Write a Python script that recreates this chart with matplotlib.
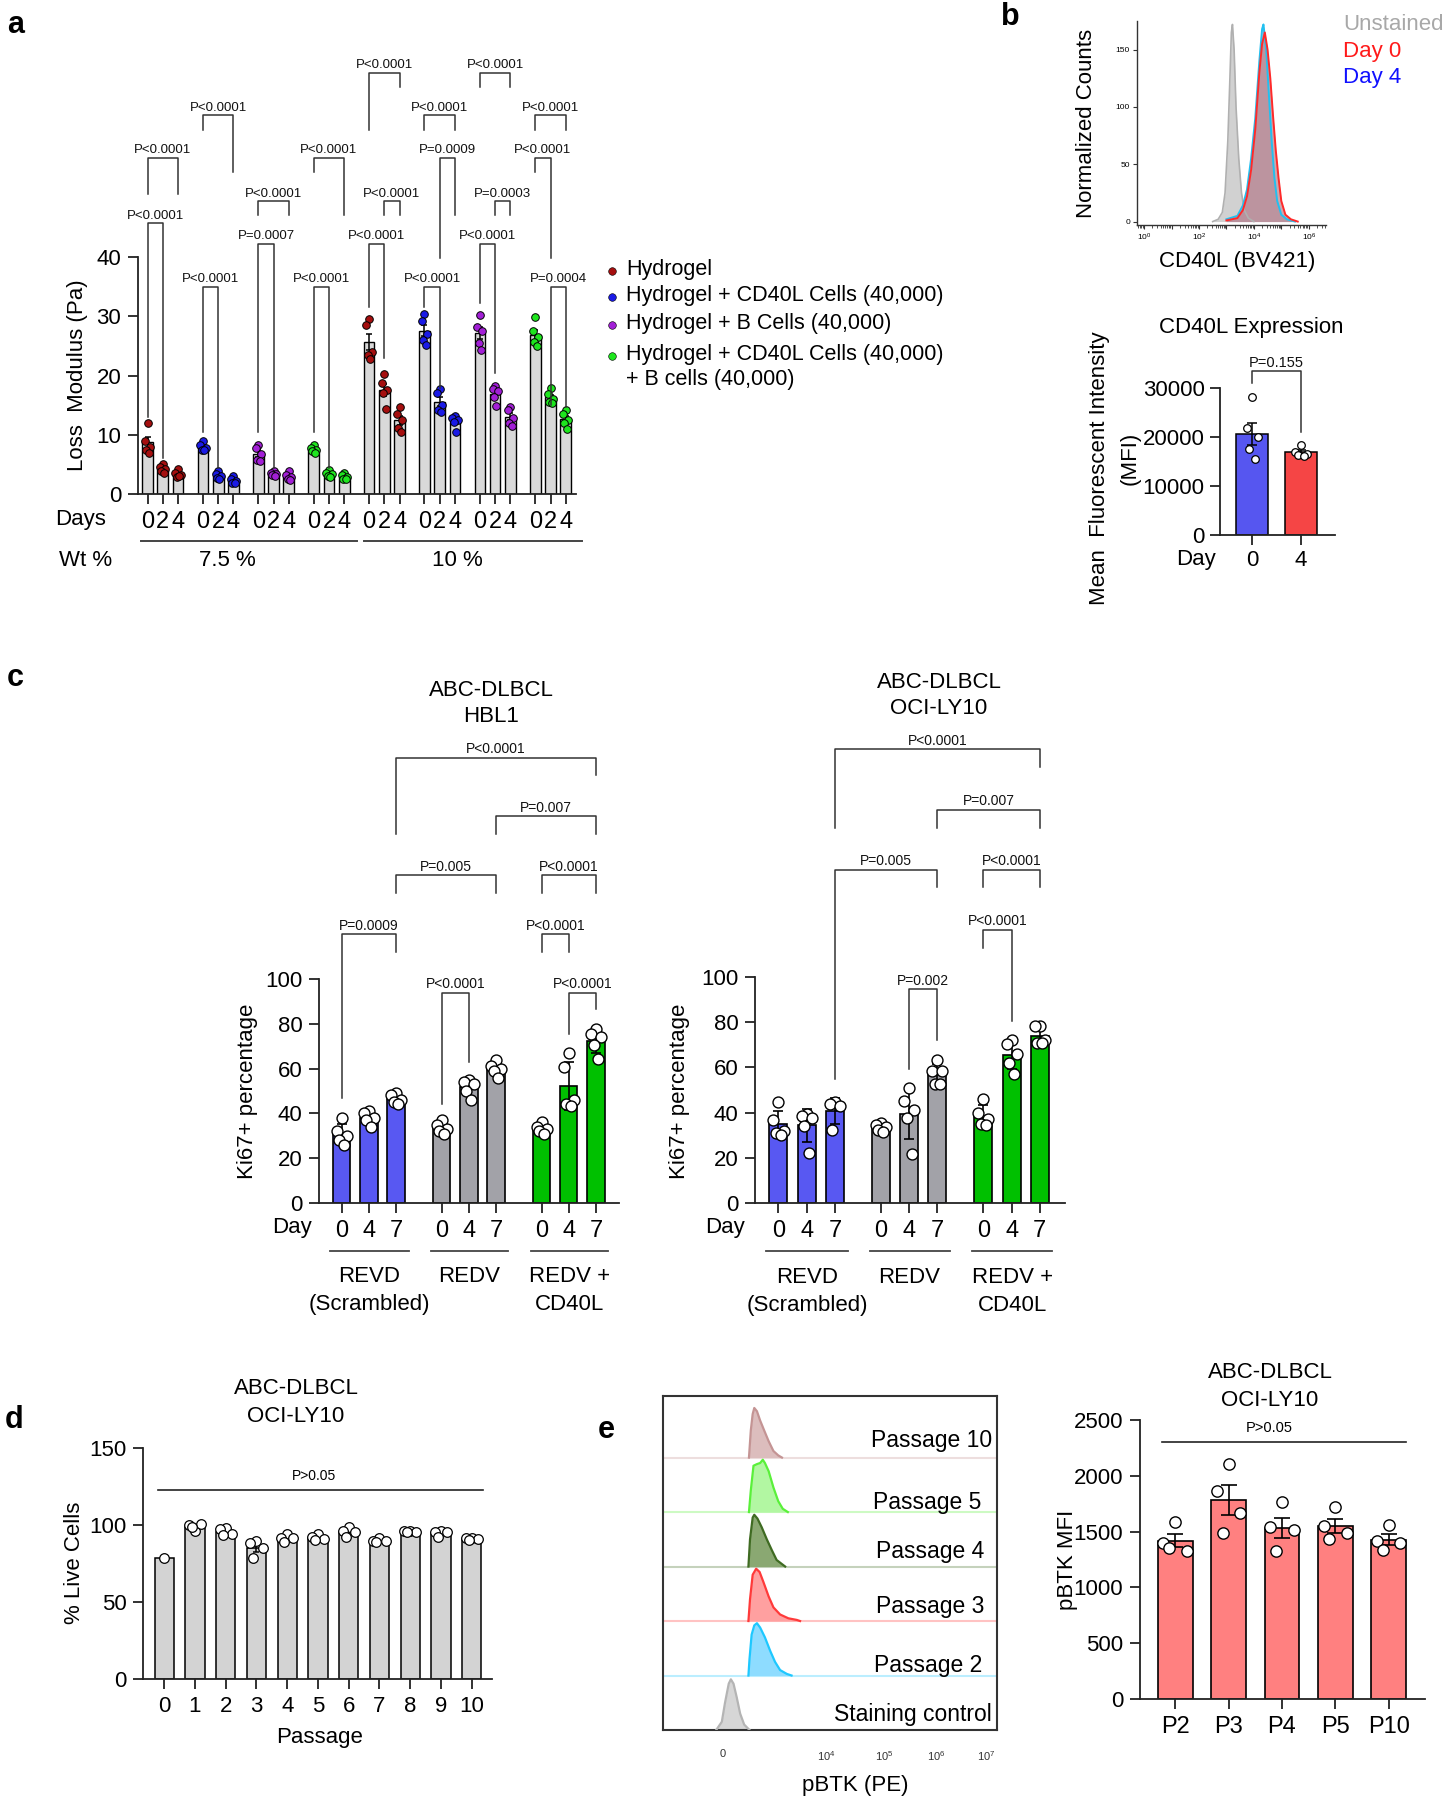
import numpy as np
import matplotlib
matplotlib.use('Agg')
import matplotlib.pyplot as plt
from matplotlib.lines import Line2D
from matplotlib.ticker import LogLocator, NullFormatter, FixedLocator

plt.rcParams['font.family'] = ['Liberation Sans', 'DejaVu Sans']
plt.rcParams['mathtext.fontset'] = 'custom'
plt.rcParams['mathtext.rm'] = 'Liberation Sans'
plt.rcParams['mathtext.it'] = 'Liberation Sans:italic'
plt.rcParams['mathtext.bf'] = 'Liberation Sans:bold'

# ======================= DATA =======================
# ---- Panel a : loss modulus (Pa) ----
a_day_labels = ['0', '2', '4']
a_wt_labels = ['7.5 %', '10 %']
a_legend = ['Hydrogel', 'Hydrogel + CD40L Cells (40,000)', 'Hydrogel + B Cells (40,000)',
            'Hydrogel + CD40L Cells (40,000)\n+ B cells (40,000)']
a_hydrogel_75 = [[12.0, 9.0, 8.0, 7.5, 7.0], [5.0, 4.5, 4.2, 3.8, 3.6], [4.3, 3.6, 3.2, 2.8, 3.0]]
a_cd40l_75 = [[8.9, 8.2, 7.8, 7.5, 7.4], [3.8, 3.4, 3.0, 2.7, 2.5], [3.0, 2.6, 2.2, 1.9, 1.8]]
a_bcell_75 = [[8.2, 7.8, 6.8, 5.8, 5.5], [3.9, 3.6, 3.4, 3.2, 3.0], [3.8, 3.2, 2.8, 2.5, 2.3]]
a_combo_75 = [[8.2, 7.8, 7.4, 7.2, 7.0], [4.0, 3.6, 3.3, 3.0, 2.9], [3.5, 3.2, 2.8, 2.6, 2.5]]
a_hydrogel_10 = [[29.5, 28.5, 24.0, 23.5, 22.8], [20.2, 18.8, 17.5, 17.0, 14.3], [14.7, 13.5, 12.5, 11.2, 10.5]]
a_cd40l_10 = [[30.4, 29.2, 27.0, 26.0, 25.2], [17.8, 17.0, 15.0, 14.2, 13.8], [13.2, 12.8, 12.5, 12.2, 10.4]]
a_bcell_10 = [[30.2, 28.2, 27.5, 25.5, 24.3], [18.3, 17.8, 17.3, 16.3, 14.8], [14.6, 14.2, 12.8, 12.0, 11.5]]
a_combo_10 = [[29.9, 27.5, 26.5, 25.6, 25.0], [17.9, 16.8, 16.0, 15.6, 15.3], [14.1, 13.5, 12.5, 12.0, 10.9]]
# (group, day_from, day_to, bracket level, left leg end, right leg end, label)
a_brackets = [
    (0, 0, 1, 45.7, 13.0, 6.0, 'P<0.0001'), (0, 0, 2, 56.75, 50.6, 50.6, 'P<0.0001'),
    (1, 0, 2, 63.9, 61.5, 54.3, 'P<0.0001'), (1, 0, 1, 35.0, 10.4, 4.4, 'P<0.0001'),
    (2, 0, 2, 49.4, 47.1, 47.1, 'P<0.0001'), (2, 0, 1, 42.25, 10.4, 4.4, 'P=0.0007'),
    (3, 0, 2, 56.75, 54.3, 47.1, 'P<0.0001'), (3, 0, 1, 35.0, 10.4, 4.4, 'P<0.0001'),
    (4, 0, 2, 71.1, 61.5, 68.7, 'P<0.0001'), (4, 1, 2, 49.4, 47.1, 47.1, 'P<0.0001'),
    (4, 0, 1, 42.25, 31.6, 22.9, 'P<0.0001'), (5, 0, 2, 63.9, 61.5, 61.5, 'P<0.0001'),
    (5, 1, 2, 56.75, 39.9, 47.1, 'P=0.0009'), (5, 0, 1, 35.0, 31.6, 17.9, 'P<0.0001'),
    (6, 0, 2, 71.1, 68.7, 68.7, 'P<0.0001'), (6, 1, 2, 49.4, 47.1, 47.1, 'P=0.0003'),
    (6, 0, 1, 42.25, 32.25, 20.4, 'P<0.0001'), (7, 0, 2, 63.9, 61.5, 61.5, 'P<0.0001'),
    (7, 0, 1, 56.75, 54.3, 39.9, 'P<0.0001'), (7, 1, 2, 35.0, 15.0, 14.75, 'P=0.0004'),
]

# ---- Panel b : CD40L histogram (log10 intensity, counts) ----
b_hist_legend = ['Unstained', 'Day 0', 'Day 4']
b_unstained_log = [2.5, 2.7, 2.85, 2.95, 3.05, 3.12, 3.18, 3.22, 3.28, 3.35, 3.45, 3.55, 3.65, 3.8, 4.0]
b_unstained_cnt = [0, 2, 8, 25, 70, 120, 165, 172, 150, 100, 55, 25, 10, 3, 0]
b_day0_log = [3.0, 3.4, 3.6, 3.75, 3.9, 4.05, 4.2, 4.3, 4.4, 4.5, 4.6, 4.7, 4.8, 4.9, 5.0, 5.15, 5.35, 5.6]
b_day0_cnt = [1, 3, 10, 22, 45, 80, 130, 155, 165, 150, 125, 92, 62, 38, 18, 6, 2, 0]
b_day4_log = [3.0, 3.4, 3.6, 3.75, 3.9, 4.05, 4.2, 4.3, 4.35, 4.45, 4.55, 4.65, 4.75, 4.85, 5.0, 5.2, 5.5]
b_day4_cnt = [2, 5, 14, 28, 55, 90, 140, 168, 172, 150, 110, 70, 38, 18, 6, 2, 0]
# ---- Panel b : CD40L MFI ----
b_days = ['0', '4']
b_mfi_day0 = [28250, 21900, 19900, 17500, 15500]
b_mfi_day4 = [18300, 17000, 16600, 16300, 16200]

# ---- Panel c : Ki67+ percentage ----
c_days = ['0', '4', '7']
c_groups = ['REVD\n(Scrambled)', 'REDV', 'REDV +\nCD40L']
c_hbl1_revd = [[38, 32, 30, 28, 26], [41, 40, 38, 37, 34], [49, 48, 46, 45, 44]]
c_hbl1_redv = [[37, 35, 33, 32, 31], [55, 54, 53, 50, 46], [64, 61, 60, 59, 56]]
c_hbl1_cd40l = [[36, 34, 33, 32, 31], [66.9, 60.6, 46, 44, 43.3], [77.6, 75.6, 74.3, 70.4, 64.3]]
c_ly10_revd = [[44.6, 36.6, 31.8, 30.9, 29.9], [39.5, 38.5, 37.5, 34, 22], [44.6, 43.6, 42.9, 32.2]]
c_ly10_redv = [[35.5, 34.5, 33.5, 32.5, 31.5], [51, 45.3, 41, 37.7, 21.7], [63.4, 58.3, 58.3, 52.6, 52.6]]
c_ly10_cd40l = [[46, 40, 37, 35, 34.5], [72, 70.5, 65.9, 61.9, 57.1], [78.5, 78.3, 72, 71, 70.7]]
# (group1, day1, group2, day2, level, left leg end, right leg end, label)
c_hbl1_brackets = [
    (0, 0, 0, 2, 119.9, 46.8, 112, 'P=0.0009'), (0, 2, 1, 2, 146.4, 138.6, 138.6, 'P=0.005'),
    (1, 2, 2, 2, 172.7, 164.9, 164.9, 'P=0.007'), (0, 2, 2, 2, 198.8, 164.9, 191, 'P<0.0001'),
    (1, 0, 1, 1, 93.8, 44.4, 63, 'P<0.0001'), (2, 0, 2, 1, 119.9, 112, 112, 'P<0.0001'),
    (2, 0, 2, 2, 146.4, 138.6, 138.6, 'P<0.0001'), (2, 1, 2, 2, 93.8, 75.6, 86.4, 'P<0.0001'),
]
c_ly10_brackets = [
    (1, 1, 1, 2, 94.7, 59.4, 72.2, 'P=0.002'), (2, 0, 2, 1, 121, 112.8, 80.4, 'P<0.0001'),
    (0, 2, 1, 2, 147.4, 54.7, 139.8, 'P=0.005'), (2, 0, 2, 2, 147.4, 139.8, 139.8, 'P<0.0001'),
    (1, 2, 2, 2, 174.1, 166, 166, 'P=0.007'), (0, 2, 2, 2, 200.8, 166, 192.8, 'P<0.0001'),
]

# ---- Panel d : % live cells per passage ----
d_passages = ['0', '1', '2', '3', '4', '5', '6', '7', '8', '9', '10']
d_live = [[78.8], [96, 100, 100.4, 98.4], [97.8, 97.3, 94.1, 93.5], [89.6, 88.5, 84.8, 78.3],
          [93.9, 91.7, 91.3, 89.1], [93.9, 92.0, 90.9, 90.0], [98.6, 96.0, 95.6, 92.2],
          [91.3, 89.6, 89.6, 89.1], [96.0, 96.0, 95.6, 95.6], [96.0, 95.6, 95.6, 92.4],
          [91.7, 91.3, 90.9, 90.4]]
d_stat = 'P>0.05'

# ---- Panel e : pBTK histograms (display decade units, relative height) ----
e_rows = ['Staining control', 'Passage 2', 'Passage 3', 'Passage 4', 'Passage 5', 'Passage 10']
e_ctrl_x = [1.925, 2.03, 2.09, 2.16, 2.2, 2.25, 2.31, 2.375, 2.45, 2.55]
e_ctrl_y = [0, 0.15, 0.5, 0.85, 0.93, 0.85, 0.6, 0.3, 0.1, 0.0]
e_p2_x = [2.53, 2.55, 2.59, 2.64, 2.69, 2.75, 2.84, 2.94, 3.03, 3.125, 3.25, 3.34]
e_p2_y = [0, 0.3, 0.75, 0.92, 0.96, 0.88, 0.7, 0.45, 0.25, 0.1, 0.03, 0]
e_p3_x = [2.53, 2.56, 2.61, 2.675, 2.74, 2.81, 2.91, 3.0, 3.125, 3.28, 3.44, 3.5]
e_p3_y = [0, 0.4, 0.85, 0.96, 0.9, 0.72, 0.45, 0.25, 0.12, 0.05, 0.02, 0]
e_p4_x = [2.53, 2.56, 2.61, 2.64, 2.70, 2.78, 2.875, 2.97, 3.06, 3.22]
e_p4_y = [0, 0.5, 0.9, 0.95, 0.88, 0.72, 0.5, 0.3, 0.12, 0]
e_p5_x = [2.54, 2.575, 2.625, 2.69, 2.75, 2.8, 2.84, 2.91, 3.0, 3.09, 3.175, 3.27]
e_p5_y = [0, 0.4, 0.85, 0.88, 0.9, 0.96, 0.9, 0.75, 0.45, 0.2, 0.06, 0]
e_p10_x = [2.54, 2.575, 2.61, 2.64, 2.69, 2.75, 2.825, 2.91, 3.0, 3.09, 3.16]
e_p10_y = [0, 0.5, 0.8, 0.91, 0.85, 0.68, 0.5, 0.3, 0.12, 0.04, 0]
e_tick_pos = [2.05, 4.0, 5.08, 6.06, 7.0]
e_tick_labels = ['0', '$10^4$', '$10^5$', '$10^6$', '$10^7$']
# ---- Panel e : pBTK MFI ----
e_labels = ['P2', 'P3', 'P4', 'P5', 'P10']
e_mfi = [[1589, 1400, 1329, 1356], [2106, 1867, 1664, 1490], [1762, 1538, 1514, 1329],
         [1723, 1550, 1484, 1430], [1559, 1419, 1400, 1335]]
e_stat = 'P>0.05'

# ======================= FIGURE =======================
W, H = 1445, 1800
fig = plt.figure(figsize=(W / 100, H / 100), dpi=100)
fig.patch.set_facecolor('white')
INK = '#222222'


def add_ax(l, t, r, b):
    return fig.add_axes([l / W, 1 - b / H, (r - l) / W, (b - t) / H])


def ftext(x, y, s, **kw):
    kw.setdefault('ha', 'center')
    kw.setdefault('va', 'center')
    kw.setdefault('fontsize', 16)
    kw.setdefault('color', 'black')
    fig.text(x / W, 1 - y / H, s, **kw)


def style(ax, fs=16, pad=4):
    for s in ['top', 'right']:
        ax.spines[s].set_visible(False)
    for s in ['left', 'bottom']:
        ax.spines[s].set_linewidth(1.3)
        ax.spines[s].set_color(INK)
    ax.tick_params(direction='out', length=7, width=1.3, labelsize=fs, color=INK, pad=pad)
    ax.set_facecolor('none')


def offsets(n, spread):
    pat = [0.0, -1.0, 1.0, -0.5, 0.5, -0.75, 0.75]
    return np.array(pat[:n]) * spread


def draw_bar(ax, x, pts, color, width, pcolor, s, err, capsize, spread, lw=1.1, pt_lw=0.9, elw=1.1):
    pts = np.asarray(pts, float)
    m = pts.mean()
    ax.bar(x, m, width=width, color=color, edgecolor='black', linewidth=lw, zorder=2)
    if len(pts) > 1:
        e = pts.std(ddof=1)
        if err == 'sem':
            e = e / np.sqrt(len(pts))
        ax.errorbar(x, m, yerr=e, fmt='none', ecolor='black', elinewidth=elw,
                    capsize=capsize, capthick=elw, zorder=3)
    ax.scatter(x + offsets(len(pts), spread), pts, s=s, c=pcolor, edgecolors='black',
               linewidths=pt_lw, zorder=4, clip_on=False)


def bracket(ax, x1, x2, y, l1, l2, txt, fs=10):
    ax.plot([x1, x1, x2, x2], [l1, y, y, l2], color='#333333', lw=1.1, clip_on=False, zorder=5)
    ax.annotate(txt, xy=((x1 + x2) / 2, y), xytext=(0, 1), textcoords='offset points',
                ha='center', va='bottom', fontsize=fs, annotation_clip=False, color='#111111')


# ---------------- Panel a ----------------
a_colors = ['#a50f0f', '#1a1ae6', '#a21fd6', '#1ee61e']
a_all = [a_hydrogel_75, a_cd40l_75, a_bcell_75, a_combo_75,
         a_hydrogel_10, a_cd40l_10, a_bcell_10, a_combo_10]
A_GAP = 3.63
axA = add_ax(138, 257, 576, 494)
style(axA, fs=16, pad=5)
xt, xl = [], []
for g, sets in enumerate(a_all):
    for d, pts in enumerate(sets):
        x = g * A_GAP + d
        draw_bar(axA, x, pts, '#d9d9d9', 0.7, a_colors[g % 4], 30, 'sem', 2.2, 0.17, lw=1.0, pt_lw=0.7)
        xt.append(x)
        xl.append(a_day_labels[d])
axA.set_xticks(xt)
axA.set_xticklabels(xl)
axA.tick_params(axis='x', labelsize=17)
axA.set_xlim(-0.625, 7 * A_GAP + 2 + 0.67)
axA.set_ylim(0, 40)
axA.set_yticks([0, 10, 20, 30, 40])
for (g, d1, d2, y, l1, l2, txt) in a_brackets:
    bracket(axA, g * A_GAP + d1, g * A_GAP + d2, y, l1, l2, txt, fs=9.5)
trA = axA.get_xaxis_transform()
axA.plot([-0.43, 13.7], [-0.2, -0.2], transform=trA, clip_on=False, color='#444444', lw=1.4)
axA.plot([14.2, 28.45], [-0.2, -0.2], transform=trA, clip_on=False, color='#444444', lw=1.4)
axA.text(5.2, -0.28, a_wt_labels[0], transform=trA, ha='center', va='center', fontsize=16)
axA.text(20.3, -0.28, a_wt_labels[1], transform=trA, ha='center', va='center', fontsize=16)
ftext(81, 519, 'Days')
ftext(86, 560, 'Wt %')
ftext(78, 375, 'Loss  Modulus (Pa)', rotation=90)
ftext(16, 25, 'a', fontsize=22, fontweight='bold')
leg_y = [271, 297, 325, 356]
for i, lab in enumerate(a_legend):
    fig.add_artist(Line2D([612 / W], [1 - leg_y[i] / H], marker='o', markersize=5.5,
                          color=a_colors[i], markeredgecolor='black', markeredgewidth=0.4,
                          transform=fig.transFigure))
    ftext(626, leg_y[i] - 12, lab, ha='left', va='top', fontsize=15.5, linespacing=1.25)

# ---------------- Panel b histogram ----------------
axBh = add_ax(1137, 21, 1326, 225)
for s in ['top', 'right']:
    axBh.spines[s].set_visible(False)
for s in ['left', 'bottom']:
    axBh.spines[s].set_linewidth(1.0)
    axBh.spines[s].set_color('#333333')
axBh.set_xscale('log')
axBh.fill_between(10 ** np.array(b_unstained_log), b_unstained_cnt, color='#cfcfcf', alpha=0.95, lw=0)
axBh.plot(10 ** np.array(b_unstained_log), b_unstained_cnt, color='#b0b0b0', lw=1.2)
axBh.fill_between(10 ** np.array(b_day4_log), b_day4_cnt, color='#9aa3c0', alpha=0.75, lw=0)
axBh.fill_between(10 ** np.array(b_day0_log), b_day0_cnt, color='#c08890', alpha=0.75, lw=0)
axBh.plot(10 ** np.array(b_day4_log), b_day4_cnt, color='#22c0f0', lw=1.4)
axBh.plot(10 ** np.array(b_day0_log), b_day0_cnt, color='#ff2a2a', lw=1.4)
axBh.set_xlim(10 ** -0.26, 10 ** 6.63)
axBh.set_ylim(-3, 175)
axBh.xaxis.set_major_locator(FixedLocator([10 ** k for k in range(7)]))
axBh.set_xticklabels(['$10^{0}$', '', '$10^{2}$', '', '$10^{4}$', '', '$10^{6}$'])
axBh.xaxis.set_minor_locator(LogLocator(base=10, subs=np.arange(2, 10) * 1.0, numticks=20))
axBh.xaxis.set_minor_formatter(NullFormatter())
axBh.set_yticks([0, 50, 100, 150])
axBh.tick_params(axis='both', which='major', labelsize=6, length=3, width=0.8, color='#333333', pad=2)
axBh.tick_params(axis='x', which='minor', length=2, width=0.6, color='#333333')
axBh.set_facecolor('none')
ftext(1086, 123, 'Normalized Counts', rotation=90)
ftext(1237, 261, 'CD40L (BV421)')
b_leg_colors = ['#a8a8a8', '#ff1a1a', '#1010ff']
for i, lab in enumerate(b_hist_legend):
    ftext(1343, [25, 52, 78][i], lab, ha='left', color=b_leg_colors[i])
ftext(1010, 17, 'b', fontsize=22, fontweight='bold')

# ---------------- Panel b bars ----------------
axBb = add_ax(1220, 388, 1335, 535)
style(axBb, fs=16, pad=4)
b_colors = ['#5656f0', '#f54545']
for i, pts in enumerate([b_mfi_day0, b_mfi_day4]):
    draw_bar(axBb, i, pts, b_colors[i], 0.66, 'white', 30, 'sem', 3.5, 0.12, lw=1.1, pt_lw=0.9)
axBb.set_xlim(-0.667, 1.706)
axBb.set_ylim(0, 30000)
axBb.set_yticks([0, 10000, 20000, 30000])
axBb.set_xticks([0, 1])
axBb.set_xticklabels(b_days)
bracket(axBb, 0, 1, 33400, 31000, 21100, 'P=0.155', fs=10.5)
ftext(1196, 560, 'Day')
ftext(1251, 327, 'CD40L Expression')
ftext(1100, 468, 'Mean  Fluorescent Intensity', rotation=90)
ftext(1130, 458, '(MFI)', rotation=90)

# ---------------- Panel c ----------------
c_colors = ['#5858f2', '#a2a2a8', '#00c000']


def panel_c(ax, sets, gap, brackets, xlim):
    style(ax, fs=16, pad=5)
    xt, xl = [], []
    for g, grp in enumerate(sets):
        for d, pts in enumerate(grp):
            x = g * gap + d
            draw_bar(ax, x, pts, c_colors[g], 0.64, 'white', 62, 'sd', 3.6, 0.18, lw=1.2, pt_lw=1.0, elw=1.2)
            xt.append(x)
            xl.append(c_days[d])
    ax.set_xticks(xt)
    ax.set_xticklabels(xl)
    ax.tick_params(axis='x', labelsize=17)
    ax.set_xlim(*xlim)
    ax.set_ylim(0, 100)
    ax.set_yticks([0, 20, 40, 60, 80, 100])
    for (g1, d1, g2, d2, y, l1, l2, txt) in brackets:
        bracket(ax, g1 * gap + d1, g2 * gap + d2, y, l1, l2, txt, fs=10)
    tr = ax.get_xaxis_transform()
    spans = [(-0.45, 2.47), (gap - 0.4, gap + 2.43), (2 * gap - 0.4, 2 * gap + 2.43)]
    for g, (x0, x1) in enumerate(spans):
        ax.plot([x0, x1], [-0.214, -0.214], transform=tr, clip_on=False, color='#444444', lw=1.3)
        ax.text((x0 + x1) / 2, -0.282, c_groups[g], transform=tr, ha='center', va='top',
                fontsize=16, linespacing=1.45)


axCL = add_ax(319, 979, 619, 1203)
panel_c(axCL, [c_hbl1_revd, c_hbl1_redv, c_hbl1_cd40l], 3.685, c_hbl1_brackets, (-0.84, 10.22))
axCR = add_ax(755, 977, 1065, 1203)
panel_c(axCR, [c_ly10_revd, c_ly10_redv, c_ly10_cd40l], 3.63, c_ly10_brackets, (-0.83, 10.15))
ftext(491, 690, 'ABC-DLBCL')
ftext(491, 716, 'HBL1')
ftext(939, 682, 'ABC-DLBCL')
ftext(939, 708, 'OCI-LY10')
ftext(292, 1228, 'Day')
ftext(725, 1228, 'Day')
ftext(247, 1091, 'Ki67+ percentage', rotation=90)
ftext(679, 1091, 'Ki67+ percentage', rotation=90)
ftext(15, 678, 'c', fontsize=22, fontweight='bold')

# ---------------- Panel d ----------------
axD = add_ax(143, 1448, 492, 1679)
style(axD, fs=16, pad=5)
for i, pts in enumerate(d_live):
    draw_bar(axD, i, pts, '#d3d3d3', 0.63, 'white', 48, 'sem', 2.5, 0.2, lw=1.1, pt_lw=0.9)
axD.set_xticks(range(len(d_passages)))
axD.set_xticklabels(d_passages)
axD.set_xlim(-0.69, 10.66)
axD.set_ylim(0, 150)
axD.set_yticks([0, 50, 100, 150])
axD.plot([-0.19, 10.36], [123, 123], color='#222222', lw=1.2, clip_on=False)
axD.text(4.86, 127, d_stat, ha='center', va='bottom', fontsize=10)
ftext(296, 1389, 'ABC-DLBCL')
ftext(296, 1416, 'OCI-LY10')
ftext(75, 1563, '% Live Cells', rotation=90)
ftext(320, 1737, 'Passage')
ftext(14, 1420, 'd', fontsize=22, fontweight='bold')

# ---------------- Panel e histograms ----------------
axEh = add_ax(663, 1396, 997, 1730)
for s in axEh.spines.values():
    s.set_linewidth(1.5)
    s.set_color('#333333')
e_curves = [(e_ctrl_x, e_ctrl_y), (e_p2_x, e_p2_y), (e_p3_x, e_p3_y),
            (e_p4_x, e_p4_y), (e_p5_x, e_p5_y), (e_p10_x, e_p10_y)]
e_edge = ['#b4b4b4', '#1ec8ff', '#ff3a3a', '#3f6b22', '#5af03a', '#c49494']
e_fill = ['#d6d6d6', '#8edcff', '#ffa0a0', '#8aa872', '#b2f7a2', '#dcbdbd']
e_lab_x = [7.11, 6.93, 6.96, 6.96, 6.9, 7.11]
e_lab_y = [0.29, 1.19, 2.27, 3.27, 4.18, 5.32]
for r, (cx, cy) in enumerate(e_curves):
    base = r
    if r > 0:
        axEh.axhline(base, color=e_edge[r], alpha=0.3, lw=1.5, zorder=1)
    axEh.fill_between(cx, base, base + np.array(cy), color=e_fill[r], lw=0, zorder=2)
    axEh.plot(cx, base + np.array(cy), color=e_edge[r], lw=1.6, zorder=3)
    axEh.text(e_lab_x[r], e_lab_y[r], e_rows[r], ha='right', va='center', fontsize=16.5, zorder=4)
axEh.set_xlim(0.925, 7.2)
axEh.set_ylim(0, 6.13)
axEh.set_yticks([])
axEh.set_xticks(e_tick_pos)
axEh.set_xticklabels(e_tick_labels)
axEh.tick_params(axis='x', length=0, labelsize=8, pad=14, labelcolor='#333333')
ftext(855, 1785, 'pBTK (PE)')
ftext(606, 1430, 'e', fontsize=22, fontweight='bold')

# ---------------- Panel e bars ----------------
axEb = add_ax(1140, 1420, 1425, 1699)
style(axEb, fs=16, pad=5)
for i, pts in enumerate(e_mfi):
    draw_bar(axEb, i, pts, '#ff8080', 0.65, 'white', 66, 'sem', 6.0, 0.22, lw=1.2, pt_lw=1.0, elw=1.2)
axEb.set_xticks(range(len(e_labels)))
axEb.set_xticklabels(e_labels)
axEb.tick_params(axis='x', labelsize=17)
axEb.set_xlim(-0.66, 4.68)
axEb.set_ylim(0, 2500)
axEb.set_yticks([0, 500, 1000, 1500, 2000, 2500])
axEb.plot([-0.255, 4.33], [2300, 2300], color='#222222', lw=1.2, clip_on=False)
axEb.text(1.77, 2370, e_stat, ha='center', va='bottom', fontsize=10.5)
ftext(1270, 1373, 'ABC-DLBCL')
ftext(1270, 1400, 'OCI-LY10')
ftext(1067, 1560, 'pBTK MFI', rotation=90)

fig.savefig('out.png', dpi=100, facecolor='white')
